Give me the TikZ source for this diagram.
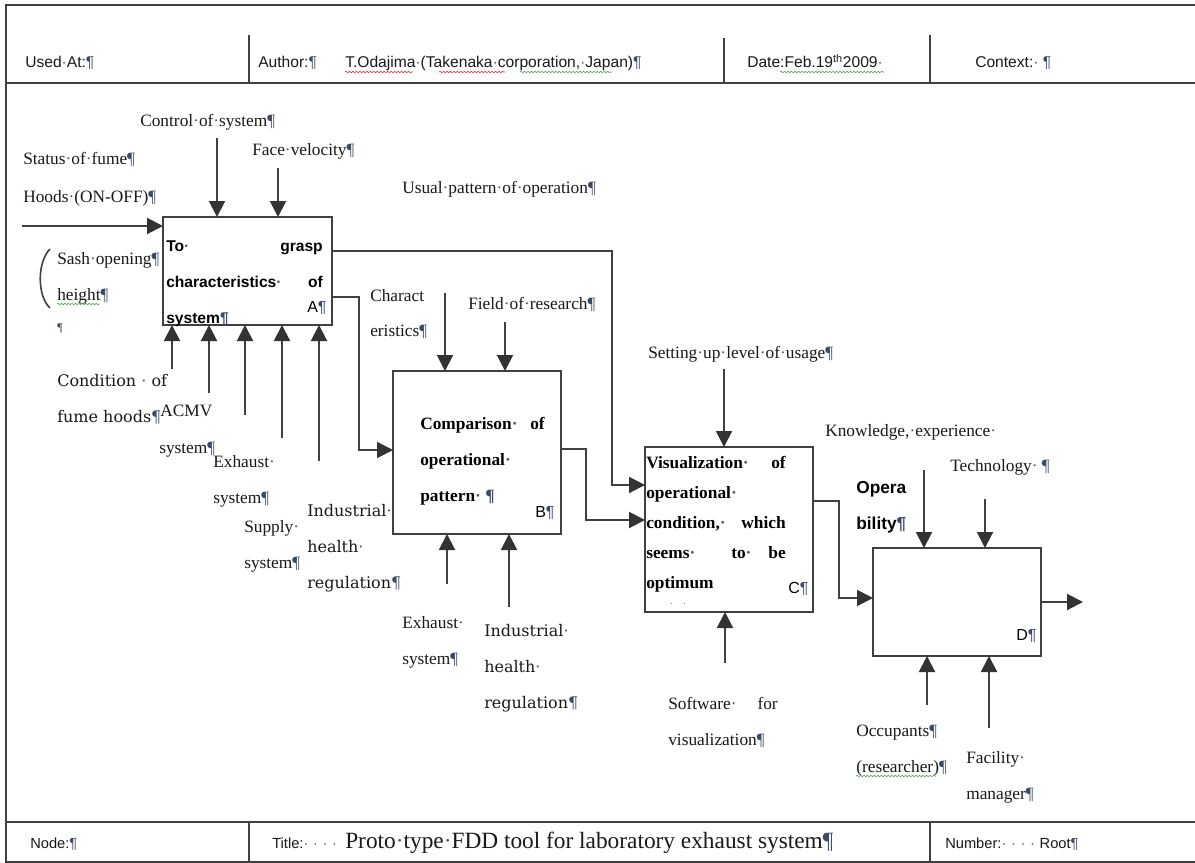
\documentclass[tikz,border=0pt]{standalone}
\usepackage{fontspec}
\setmainfont{Liberation Serif}
\setsansfont{Liberation Sans}
\newfontfamily\widefont{DejaVu Serif}
\usetikzlibrary{arrows.meta,calc,decorations.pathmorphing}
\definecolor{linec}{HTML}{404040}
\definecolor{tipc}{HTML}{333333}
\definecolor{pilc}{HTML}{3C4A66}
\definecolor{spellred}{HTML}{E04040}
\definecolor{spellgreen}{HTML}{50B050}
% paragraph mark and visible space as shown by the editor
\newcommand\pil{{\color{pilc}¶}}
\newcommand\wsp{{\color{black!65}·}}
\newcommand\wdots{\wsp\hspace{3.5pt}\wsp\hspace{3.5pt}\wsp\hspace{3.5pt}\wsp}
\begin{document}
\begin{tikzpicture}[x=0.75pt,y=-0.75pt,
  lbl/.style={anchor=base west,inner sep=0pt,font=\fontsize{13}{15}\selectfont,text=black!90},
  lblr/.style={lbl,anchor=base east},
  wlbl/.style={anchor=base west,inner sep=0pt,font=\widefont\fontsize{12}{14}\selectfont,text=black!90},
  hdr/.style={anchor=base west,inner sep=0pt,font=\sffamily\fontsize{11.7}{13}\selectfont,text=black!90},
  ftr/.style={anchor=base west,inner sep=0pt,font=\sffamily\fontsize{11}{12}\selectfont,text=black!90},
  btxt/.style={anchor=base west,inner sep=0pt,font=\bfseries\fontsize{13}{15}\selectfont},
  btxtr/.style={btxt,anchor=base east},
  stxt/.style={anchor=base west,inner sep=0pt,font=\sffamily\bfseries\fontsize{11.7}{14}\selectfont},
  stxtr/.style={stxt,anchor=base east},
  boxid/.style={anchor=base west,inner sep=0pt,font=\sffamily\fontsize{12}{14}\selectfont},
  fn/.style={draw=linec,line width=1.6pt,fill=white,inner sep=0pt,outer sep=0pt},
  arr/.style={draw=linec,line width=1.5pt,-{Triangle[length=12pt,width=12pt,color=tipc]}},
  frame/.style={draw=linec,line width=1.8pt},
  divider/.style={draw=linec,line width=1.5pt},
  squig/.style={decorate,decoration={snake,amplitude=0.55pt,segment length=2.6pt},line width=0.5pt}]

\useasboundingbox (0,0) rectangle (1195,863);
\fill[white] (0,0) rectangle (1195,863);

% ---------- form frame ----------
\draw[frame] (1195,5) -- (6,5) -- (6,862) -- (1195,862);
\draw[frame] (6,83) -- (1195,83);
\draw[frame] (6,822) -- (1195,822);
\draw[divider] (249,35) -- (249,83);
\draw[divider] (724,38) -- (724,83);
\draw[divider] (930,35) -- (930,83);
\draw[divider] (249,822) -- (249,862);
\draw[divider] (930,822) -- (930,862);

% ---------- header ----------
\node[hdr] (usedat) at (25,68) {Used\wsp At:\pil};
\node[hdr] (author) at (258,68) {Author:\pil};
\node[hdr] (auth) at (345,68) {T.Odajima\wsp(Takenaka\wsp corporation,\wsp Japan)\pil};
\node[hdr] (date) at (747,68) {Date:Feb.19\textsuperscript{th}2009\wsp};
\node[hdr] (context) at (975,68) {Context:\wsp\ \pil};
\draw[squig,spellred] ($(auth.base west)+(0,4)$) -- ++(68,0);
\draw[squig,spellred] ($(auth.base west)+(94,4)$) -- ++(66,0);
\draw[squig,spellgreen] ($(auth.base west)+(175,4)$) -- ++(92,0);
\draw[squig,spellgreen] ($(date.base west)+(33,4)$) -- ++(104,0);

% ---------- footer ----------
\node[ftr] (nodelbl) at (30,848) {Node:\pil};
\node[ftr] (titlelbl) at (272,848) {Title:\wdots};
\node[anchor=base west,inner sep=0pt,font=\fontsize{17.5}{19}\selectfont,text=black!90] (title) at (345,848)
  {Proto\wsp type\wsp FDD tool for laboratory exhaust system\pil};
\node[ftr] (numlbl) at (945,848) {Number:\wdots\hspace{3.5pt}Root\pil};

% ---------- activity boxes ----------
\node[fn,minimum width=126.75pt,minimum height=81pt] (A) at (247.5,271) {};
\node[fn,minimum width=126pt,minimum height=122.25pt] (B) at (477,452.5) {};
\node[fn,minimum width=126pt,minimum height=123.75pt] (C) at (729,529.5) {};
\node[fn,minimum width=126pt,minimum height=81pt] (D) at (957,602) {};

% box A text
\node[stxt] (a1) at (166,251) {To\wsp};
\node[stxtr] (a2) at (323,251) {grasp};
\node[stxt] (a3) at (166,287) {characteristics\wsp};
\node[stxtr] (a4) at (323,287) {of};
\node[stxt] (a5) at (166,323) {system\pil};
\node[boxid] (aid) at (307,312) {A\pil};

% box B text
\node[btxt] (b1) at (420,429) {Comparison\wsp};
\node[btxtr] (b2) at (545,429) {of};
\node[btxt] (b3) at (420,465) {operational\wsp};
\node[btxt] (b4) at (420,501) {pattern\wsp\ \pil};
\node[boxid] (bid) at (535,517) {B\pil};

% box C text
\node[btxt] (c1) at (646,468) {Visualization\wsp};
\node[btxtr] (c2) at (786,468) {of};
\node[btxt] (c3) at (646,498) {operational\wsp};
\node[btxt] (c4) at (646,528) {condition,\wsp};
\node[btxtr] (c5) at (786,528) {which};
\node[btxt] (c6) at (646,558) {seems\wsp};
\node[btxt] (c7) at (731,558) {to\wsp};
\node[btxtr] (c8) at (786,558) {be};
\node[btxt] (c9) at (646,588) {optimum};
\node[btxt,font=\fontsize{7}{8}\selectfont,text=black!60] (c10) at (670,604) {.\hspace{8pt}.};
\node[boxid] (cid) at (788,593) {C\pil};

% box D text
\node[boxid] (did) at (1016,640) {D\pil};
\node[stxt,font=\sffamily\bfseries\fontsize{13}{15}\selectfont] (op1) at (856,493) {Opera};
\node[stxt,font=\sffamily\bfseries\fontsize{13}{15}\selectfont] (op2) at (856,529) {bility\pil};

% ---------- labels around A ----------
\node[lbl] (ctrlsys) at (140,127) {Control\wsp of\wsp system\pil};
\node[lbl] (facevel) at (252,156) {Face\wsp velocity\pil};
\node[lbl] (status1) at (23,165) {Status\wsp of\wsp fume\pil};
\node[lbl] (status2) at (23,202) {Hoods\wsp(ON-OFF)\pil};
\node[lbl] (sash1) at (57,264) {Sash\wsp opening\pil};
\node[lbl] (sash2) at (57,300) {height\pil};
\node[lbl,font=\fontsize{9}{10}\selectfont] (sash3) at (57,331) {\pil};
\draw[squig,spellgreen] ($(sash2.base west)+(0,4)$) -- ++(43,0);
\draw[linec,line width=1.2pt] (50,249) .. controls (37,262) and (37,296) .. (50,308);

\node[wlbl] (cond1) at (57,386) {Condition \wsp\ of};
\node[wlbl] (cond2) at (57,422) {fume hoods\pil};
\node[lbl] (acmv1) at (160,416) {ACMV};
\node[lbl] (acmv2) at (159,453) {system\pil};
\node[lbl] (exh1a) at (213,467) {Exhaust\wsp};
\node[lbl] (exh1b) at (213,503) {system\pil};
\node[lbl] (sup1) at (244,532) {Supply\wsp};
\node[lbl] (sup2) at (244,568) {system\pil};
\node[wlbl] (ind1a) at (307,516) {Industrial\wsp};
\node[wlbl] (ind1b) at (307,552) {health\wsp};
\node[wlbl] (ind1c) at (307,588) {regulation\pil};

% ---------- labels around B ----------
\node[lbl] (usual) at (402,193) {Usual\wsp pattern\wsp of\wsp operation\pil};
\node[lbl] (char1) at (370,301) {Charact};
\node[lbl] (char2) at (370,336) {eristics\pil};
\node[lbl] (field) at (468,309) {Field\wsp of\wsp research\pil};
\node[lbl] (exh2a) at (402,628) {Exhaust\wsp};
\node[lbl] (exh2b) at (402,664) {system\pil};
\node[wlbl] (ind2a) at (484,636) {Industrial\wsp};
\node[wlbl] (ind2b) at (484,672) {health\wsp};
\node[wlbl] (ind2c) at (484,708) {regulation\pil};

% ---------- labels around C ----------
\node[lbl] (setting) at (648,358) {Setting\wsp up\wsp level\wsp of\wsp usage\pil};
\node[lbl] (soft1) at (668,709) {Software\wsp};
\node[lblr] (soft1b) at (778,709) {for};
\node[lbl] (soft2) at (668,745) {visualization\pil};

% ---------- labels around D ----------
\node[lbl] (know) at (825,436) {Knowledge,\wsp experience\wsp};
\node[lbl] (tech) at (950,471) {Technology\wsp\ \pil};
\node[lbl] (occ1) at (856,736) {Occupants\pil};
\node[lbl] (occ2) at (856,772) {(researcher)\pil};
\draw[squig,spellgreen] ($(occ2.base west)+(0,4)$) -- ++(80,0);
\node[lbl] (fac1) at (966,763) {Facility\wsp};
\node[lbl] (fac2) at (966,799) {manager\pil};

% ---------- arrow tails and bends ----------
\coordinate (inA) at (22,226);
\coordinate (cA1) at (217,138);
\coordinate (cA2) at (278,168);
\coordinate (mA1) at (172,369);
\coordinate (mA2) at (209,393);
\coordinate (mA3) at (245,415);
\coordinate (mA4) at (282,438);
\coordinate (mA5) at (319,461);
\coordinate (oA1a) at (612,251);
\coordinate (oA1b) at (612,485);
\coordinate (oA2a) at (359,297);
\coordinate (oA2b) at (359,450);
\coordinate (cB1) at (445,293);
\coordinate (cB2) at (505,322);
\coordinate (mB1) at (447,584);
\coordinate (mB2) at (509,607);
\coordinate (oBa) at (586,449);
\coordinate (oBb) at (586,520);
\coordinate (cC1) at (724,369);
\coordinate (mC1) at (725,663);
\coordinate (oCa) at (839,501);
\coordinate (oCb) at (839,598);
\coordinate (cD1) at (924,470);
\coordinate (cD2) at (985,499);
\coordinate (mD1) at (927,705);
\coordinate (mD2) at (989,728);
\coordinate (outD) at (1083,602);

% ---------- connectors ----------
\draw[arr] (inA) -- (inA -| A.west);
\draw[arr] (cA1) -- (cA1 |- A.north);
\draw[arr] (cA2) -- (cA2 |- A.north);
\foreach \m in {mA1,mA2,mA3,mA4,mA5}
  \draw[arr] (\m) -- (\m |- A.south);
\draw[arr] (A.east |- oA1a) -- (oA1a) -- (oA1b) -- (C.west |- oA1b);
\draw[arr] (A.east |- oA2a) -- (oA2a) -- (oA2b) -- (B.west |- oA2b);
\draw[arr] (cB1) -- (cB1 |- B.north);
\draw[arr] (cB2) -- (cB2 |- B.north);
\draw[arr] (mB1) -- (mB1 |- B.south);
\draw[arr] (mB2) -- (mB2 |- B.south);
\draw[arr] (B.east |- oBa) -- (oBa) -- (oBb) -- (C.west |- oBb);
\draw[arr] (cC1) -- (cC1 |- C.north);
\draw[arr] (mC1) -- (mC1 |- C.south);
\draw[arr] (C.east |- oCa) -- (oCa) -- (oCb) -- (D.west |- oCb);
\draw[arr] (cD1) -- (cD1 |- D.north);
\draw[arr] (cD2) -- (cD2 |- D.north);
\draw[arr] (mD1) -- (mD1 |- D.south);
\draw[arr] (mD2) -- (mD2 |- D.south);
\draw[arr] (D.east |- outD) -- (outD);
\end{tikzpicture}
\end{document}
